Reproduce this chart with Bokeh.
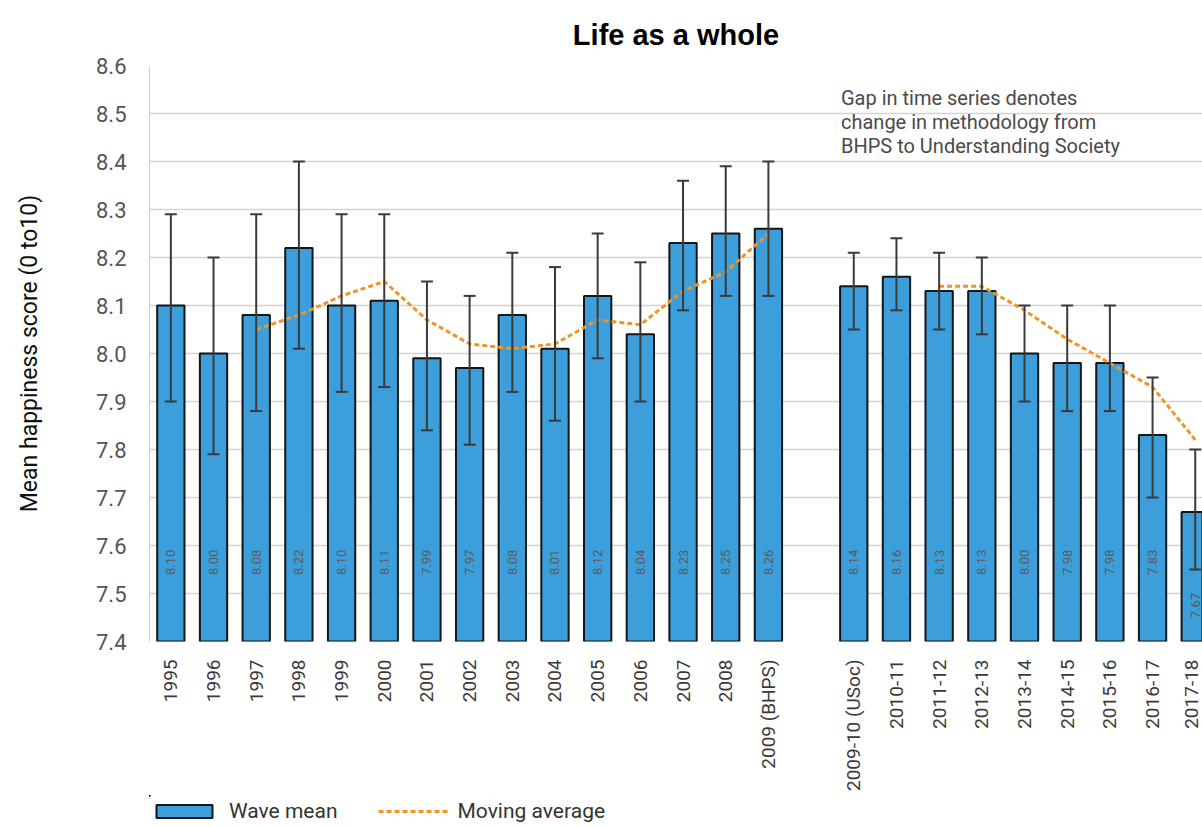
import math
import numpy as np
from bokeh.plotting import figure
from bokeh.layouts import column
from bokeh.models import (Range1d, FixedTicker, Legend, LegendItem, Label,
                          ColumnDataSource, PrintfTickFormatter, Whisker, TeeHead)
from bokeh.core.properties import value
from bokeh.embed import file_html
from bokeh.resources import INLINE

# ---------------- data ----------------
waves = ["1995", "1996", "1997", "1998", "1999", "2000", "2001", "2002", "2003",
         "2004", "2005", "2006", "2007", "2008", "2009 (BHPS)",
         "2009-10 (USoc)", "2010-11", "2011-12", "2012-13", "2013-14",
         "2014-15", "2015-16", "2016-17", "2017-18"]
wave_mean = [8.10, 8.00, 8.08, 8.22, 8.10, 8.11, 7.99, 7.97, 8.08, 8.01, 8.12,
             8.04, 8.23, 8.25, 8.26,
             8.14, 8.16, 8.13, 8.13, 8.00, 7.98, 7.98, 7.83, 7.67]
ci_upper = [8.29, 8.20, 8.29, 8.40, 8.29, 8.29, 8.15, 8.12, 8.21, 8.18, 8.25,
            8.19, 8.36, 8.39, 8.40,
            8.21, 8.24, 8.21, 8.20, 8.10, 8.10, 8.10, 7.95, 7.80]
ci_lower = [7.90, 7.79, 7.88, 8.01, 7.92, 7.93, 7.84, 7.81, 7.92, 7.86, 7.99,
            7.90, 8.09, 8.12, 8.12,
            8.05, 8.09, 8.05, 8.04, 7.90, 7.88, 7.88, 7.70, 7.55]
moving_avg = [None, None, 8.05, 8.08, 8.12, 8.15, 8.07, 8.02, 8.01, 8.02, 8.07,
              8.06, 8.13, 8.17, 8.25,
              None, None, 8.14, 8.14, 8.09, 8.03, 7.98, 7.93, 7.82]
y_ticks = [7.4, 7.5, 7.6, 7.7, 7.8, 7.9, 8.0, 8.1, 8.2, 8.3, 8.4, 8.5, 8.6]
n_bhps = 15  # BHPS waves; a one-slot gap separates them from Understanding Society

note_lines = ["Gap in time series denotes",
              "change in methodology from",
              "BHPS to Understanding Society"]

# ---------------- derived ----------------
xpos = [i if i < n_bhps else i + 1 for i in range(len(waves))]
ma = np.array([np.nan if v is None else v for v in moving_avg], dtype=float)
label_y = [min(7.565, lo - 0.075) for lo in ci_lower]
labels = ["%.2f" % v for v in wave_mean]

src = ColumnDataSource(dict(x=xpos, top=wave_mean, up=ci_upper, lo=ci_lower,
                            ma=ma, ly=label_y, lab=labels))

FONT = "Roboto"
BLUE = "#3c9fdb"
ORANGE = "#f39325"
BAR_STYLE = dict(width=0.64, fill_color=BLUE, line_color="#151515", line_width=2)
MA_STYLE = dict(line_color=ORANGE, line_width=3, line_dash="5 3")

p = figure(width=1202, height=795, output_backend="svg", toolbar_location=None,
           x_range=Range1d(-0.5, 24.17), y_range=Range1d(7.4, 8.6),
           min_border_left=149, min_border_right=0, min_border_top=65,
           min_border_bottom=154)

p.title.text = "Life as a whole"
p.title.align = "center"
p.title.offset = 6
p.title.standoff = 30
p.title.text_font = "Liberation Sans"
p.title.text_font_style = "bold"
p.title.text_font_size = "29px"
p.title.text_color = "#000000"

bars = p.vbar(x="x", top="top", bottom=7.4, source=src, **BAR_STYLE)

p.text(x="x", y="ly", text="lab", source=src, angle=math.pi / 2,
       text_align="center", text_baseline="middle",
       text_font=value(FONT), text_font_size="13px", text_color="#5a5a5a")

w = Whisker(base="x", upper="up", lower="lo", source=src, dimension="height",
            line_color="#3a3a3a", line_width=2, level="glyph",
            upper_head=TeeHead(size=12, line_color="#3a3a3a", line_width=2),
            lower_head=TeeHead(size=12, line_color="#3a3a3a", line_width=2))
p.add_layout(w)

ma_line = p.line(x="x", y="ma", source=src, **MA_STYLE)

# axes
p.xaxis.ticker = FixedTicker(ticks=xpos)
p.xaxis.major_label_overrides = {x: lab for x, lab in zip(xpos, waves)}
p.xaxis.major_label_orientation = math.pi / 2
p.xaxis.major_label_text_font = FONT
p.xaxis.major_label_text_font_size = "19px"
p.xaxis.major_label_text_color = "#3a3a3a"
p.xaxis.major_label_standoff = 18
p.xaxis.axis_line_color = None
p.xaxis.major_tick_line_color = None
p.xaxis.minor_tick_line_color = None
p.xaxis.major_tick_out = 0
p.xaxis.major_tick_in = 0
p.xaxis.minor_tick_out = 0

p.yaxis.ticker = FixedTicker(ticks=y_ticks)
p.yaxis.formatter = PrintfTickFormatter(format="%.1f")
p.yaxis.major_label_text_font = FONT
p.yaxis.major_label_text_font_size = "22px"
p.yaxis.major_label_text_color = "#555555"
p.yaxis.major_label_standoff = 17
p.yaxis.axis_line_color = "#d0d0d0"
p.yaxis.major_tick_line_color = None
p.yaxis.minor_tick_line_color = None
p.yaxis.axis_label = "Mean happiness score (0 to10)"
p.yaxis.axis_label_text_font = FONT
p.yaxis.axis_label_text_font_style = "normal"
p.yaxis.axis_label_text_font_size = "23px"
p.yaxis.axis_label_text_color = "#111111"
p.yaxis.axis_label_standoff = 50

p.xgrid.visible = False
p.ygrid.grid_line_color = "#d3d3d3"
p.ygrid.grid_line_width = 1.5
p.outline_line_color = None

# note
for i, t in enumerate(note_lines):
    p.add_layout(Label(x=15.7, y=8.533 - i * 0.05, text=t, text_font=FONT,
                       text_font_size="20px", text_color="#4a4a4a",
                       text_baseline="middle", text_align="left"))

# ---- legend strip under the chart (same glyph styles, same data source) ----
lg = figure(width=1202, height=32, output_backend="svg", toolbar_location=None,
            x_range=Range1d(100, 101), y_range=Range1d(0, 1),
            min_border=0, min_border_left=0, min_border_right=0,
            min_border_top=0, min_border_bottom=0)
lg.axis.visible = False
lg.grid.visible = False
lg.outline_line_color = None
lg_bars = lg.vbar(x="x", top="top", bottom=7.4, source=src, **BAR_STYLE)
lg_line = lg.line(x="x", y="ma", source=src, **MA_STYLE)

legend = Legend(items=[LegendItem(label="Wave mean", renderers=[lg_bars]),
                       LegendItem(label="Moving average", renderers=[lg_line])],
                location=(0, 4), orientation="horizontal",
                glyph_width=70, glyph_height=16, spacing=40, label_standoff=10,
                padding=0, margin=0, border_line_color=None,
                background_fill_alpha=0, label_text_font=FONT,
                label_text_font_size="21px", label_text_color="#333333")
lg.add_layout(legend)

layout = column(p, lg, spacing=0)
open("out.html", "w").write(file_html(layout, INLINE))
